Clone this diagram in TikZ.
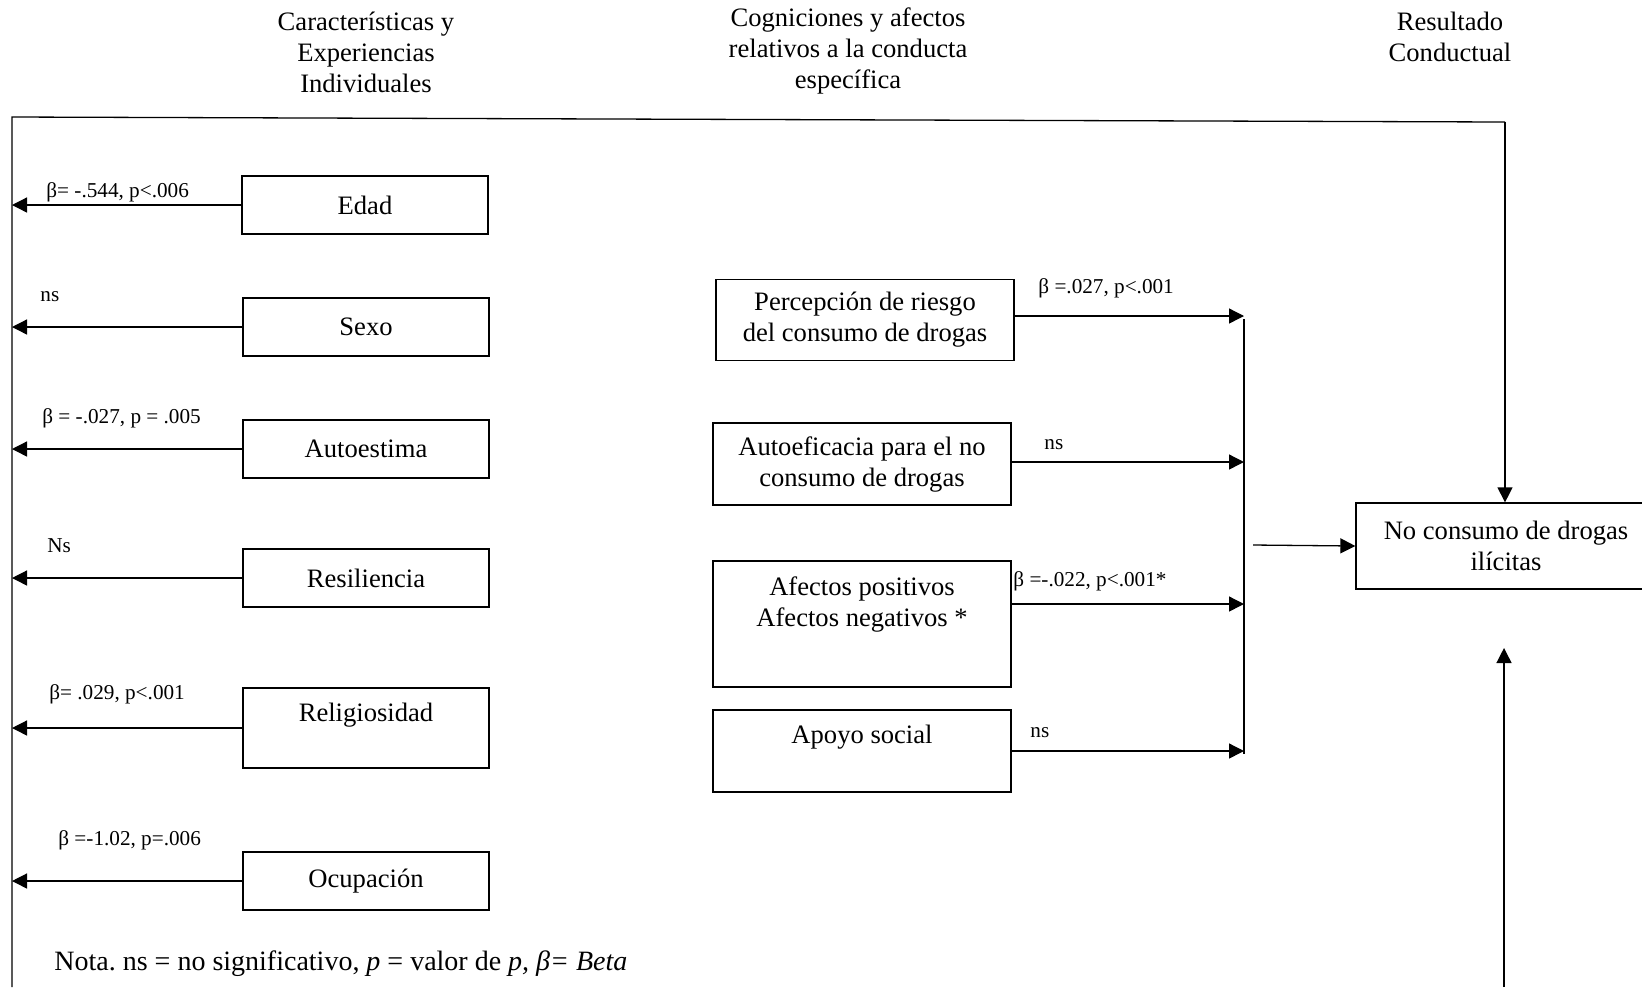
\documentclass[tikz,border=0pt]{standalone}
\usepackage{fontspec}
\setmainfont{Liberation Serif}
\usetikzlibrary{arrows.meta}

\begin{document}
\begin{tikzpicture}[x=0.5pt,y=-0.5pt,
  line/.style={line width=0.65pt},
  box/.style={draw,line width=0.65pt,minimum width=123pt,minimum height=29pt,inner sep=0pt,align=center,font=\fontsize{13.3}{15.5}\selectfont},
  boxtxt/.style={align=center,inner sep=0pt,font=\fontsize{13.3}{15.5}\selectfont},
  lbl/.style={anchor=west,inner sep=0pt,font=\fontsize{10.6}{12}\selectfont},
  head/.style={align=center,font=\fontsize{13.3}{15.5}\selectfont},
  arr/.style={line width=0.65pt,-{Triangle[length=7.5pt,width=7.5pt]}}]
  \useasboundingbox (0,0) rectangle (1642,987);
  % column headers
  \node[head] (head1) at (366,52) {Características y\\Experiencias\\Individuales};
  \node[head] (head2) at (848,51) {Cogniciones y afectos\\relativos a la conducta\\específica};
  \node[head] (head3) at (1450,37) {Resultado\\Conductual};
  % outer frame
  \coordinate (tl) at (12,117);
  \coordinate (tr) at (1505,122);
  \coordinate (bl) at (12,987);
  \coordinate (br) at (1504,987);
  \coordinate (upend) at (1504,648);
  \draw[line] (bl) -- (tl) -- (tr);
  % individual characteristics
  \node[box] (edad) at (365,205) {Edad};
  \node[box] (sexo) at (366,327) {Sexo};
  \node[box] (autoest) at (366,449) {Autoestima};
  \node[box] (resil) at (366,578) {Resiliencia};
  \node[box,minimum height=40pt] (relig) at (366,728) {};
  \node[boxtxt] (religtxt) at (366,715) {Religiosidad};
  \node[box] (ocup) at (366,881) {Ocupación};
  \draw[arr] (edad.west) -- (edad.west -| tl);
  \draw[arr] (sexo.west) -- (sexo.west -| tl);
  \draw[arr] (autoest.west) -- (autoest.west -| tl);
  \draw[arr] (resil.west) -- (resil.west -| tl);
  \draw[arr] (relig.west) -- (relig.west -| tl);
  \draw[arr] (ocup.west) -- (ocup.west -| tl);
  \node[lbl] (ledad) at (46,192) {β= -.544, p<.006};
  \node[lbl] (lsexo) at (40,297) {ns};
  \node[lbl] (lautoest) at (42,418) {β = -.027, p = .005};
  \node[lbl] (lresil) at (47,546) {Ns};
  \node[lbl] (lrelig) at (49,694) {β= .029, p<.001};
  \node[lbl] (locup) at (58,840) {β =-1.02, p=.006};
  % behaviour-specific cognitions
  \node[box,minimum width=149pt,minimum height=40.5pt] (perc) at (865,320) {Percepción de riesgo\\del consumo de drogas};
  \node[box,minimum width=149pt,minimum height=41pt] (autoef) at (862,464) {Autoeficacia para el no\\consumo de drogas};
  \node[box,minimum width=149pt,minimum height=63pt] (afectos) at (862,624) {};
  \node[boxtxt] (afectostxt) at (862,604) {Afectos positivos\\Afectos negativos *};
  \node[box,minimum width=149pt,minimum height=41pt] (apoyo) at (862,751) {};
  \node[boxtxt] (apoyotxt) at (862,737) {Apoyo social};
  \coordinate (bustop) at (1244,319);
  \coordinate (busbot) at (1244,754);
  \coordinate (busout) at (1253,545);
  \draw[line] (bustop) -- (busbot);
  \draw[arr] ([yshift=2pt]perc.east) -- ([yshift=2pt]perc.east -| bustop);
  \draw[arr] ([yshift=1pt]autoef.east) -- ([yshift=1pt]autoef.east -| bustop);
  \draw[arr] (afectostxt.east -| afectos.east) -- (afectostxt.east -| bustop);
  \draw[arr] (apoyo.east) -- (apoyo.east -| bustop);
  \node[lbl] (lperc) at (1038,288) {β =.027, p<.001};
  \node[lbl] (lautoef) at (1044,445) {ns};
  \node[lbl] (lafectos) at (1013,581) {β =-.022, p<.001*};
  \node[lbl] (lapoyo) at (1030,733) {ns};
  % outcome
  \node[box,minimum width=150pt,minimum height=43pt] (result) at (1506,546) {No consumo de drogas\\ilícitas};
  \draw[arr] (busout) -- (result.west);
  \draw[arr] (tr) -- (tr |- result.north);
  \draw[arr] (br) -- (upend);
  % note
  \node[anchor=west,inner sep=0pt,font=\fontsize{14}{16}\selectfont] (nota) at (54,964) {Nota.\ ns = no significativo, \textit{p} = valor de \textit{p, β= Beta}};
\end{tikzpicture}
\end{document}
